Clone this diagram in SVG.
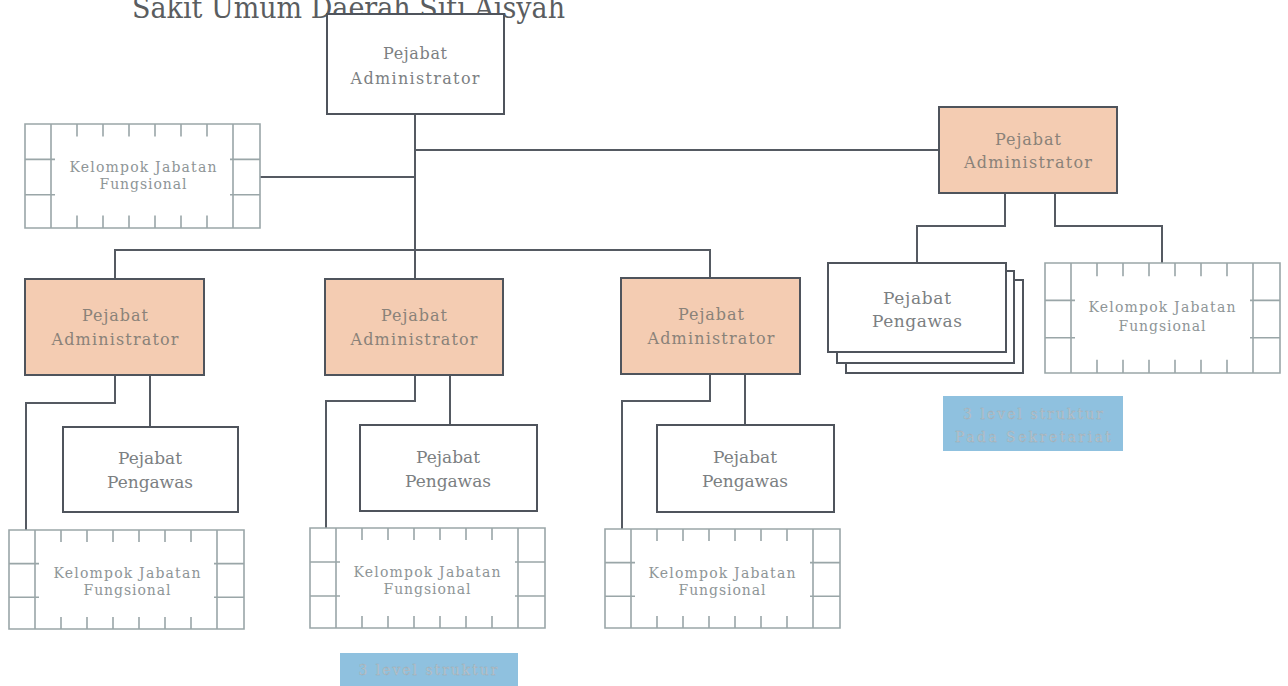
<svg xmlns="http://www.w3.org/2000/svg" width="1288" height="686" viewBox="0 0 1288 686">
  <style>
    .box { fill: #ffffff; stroke: #4f545c; stroke-width: 2; }
    .adm { fill: #f4ccb2; stroke: #4f545c; stroke-width: 2; }
    .kjf-frame { fill: #ffffff; stroke: #9aa6a8; stroke-width: 1.6; vector-effect: non-scaling-stroke; }
    .kjf-line { fill: none; stroke: #9aa6a8; stroke-width: 1.6; vector-effect: non-scaling-stroke; }
    .wire { fill: none; stroke: #555a62; stroke-width: 2; }
    .lbl { font-family: "DejaVu Serif", "Liberation Serif", serif; fill: #7c8082; text-anchor: middle; font-size: 17px; }
    .lbl-adm { font-family: "DejaVu Serif", "Liberation Serif", serif; fill: #8a8279; text-anchor: middle; font-size: 16px; }
    .lbl-kjf { font-family: "DejaVu Serif", "Liberation Serif", serif; fill: #8e9597; text-anchor: middle; font-size: 14px; }
    .tag { fill: #8fc1df; }
    .lbl-tag { font-family: "DejaVu Serif", "Liberation Serif", serif; fill: #bcc7ce; stroke: #9aa9b2; stroke-width: 0.3; text-anchor: middle; font-size: 14px; }
  </style>
  <defs>
    <!-- functional group frame, 235 x 100 -->
    <g id="kjf">
      <rect class="kjf-frame" x="0" y="0" width="235" height="100"/>
      <path class="kjf-line" d="M26 0V100 M208 0V100 M0 34H30 M0 68H30 M205 34H235 M205 68H235 M52 0V12 M78 0V12 M104 0V12 M130 0V12 M156 0V12 M182 0V12 M52 88V100 M78 88V100 M104 88V100 M130 88V100 M156 88V100 M182 88V100"/>
    </g>
  </defs>

  <rect width="1288" height="686" fill="#ffffff"/>

  <!-- heading, running off the top edge -->
  <text x="132" y="18" font-family="DejaVu Serif, Liberation Serif, serif" font-size="30" font-weight="300" fill="#5a5d60" textLength="433" lengthAdjust="spacingAndGlyphs">Sakit Umum Daerah Siti Aisyah</text>

  <g id="connectors">
    <path class="wire" d="M415 114V279"/>
    <path class="wire" d="M415 150H939"/>
    <path class="wire" d="M260 177H415"/>
    <path class="wire" d="M115 279V250H710V278"/>
    <path class="wire" d="M115 375V403H26V530"/>
    <path class="wire" d="M150 375V427"/>
    <path class="wire" d="M415 375V401H326V528"/>
    <path class="wire" d="M450 375V425"/>
    <path class="wire" d="M710 374V401H622V529"/>
    <path class="wire" d="M745 374V425"/>
    <path class="wire" d="M1005 193V226H917V263"/>
    <path class="wire" d="M1055 193V226H1162V263"/>
  </g>

  <g id="top-admin">
    <rect class="box" x="327" y="14" width="177" height="100"/>
    <text class="lbl-adm" style="fill:#7c8082" x="415" y="59" textLength="64">Pejabat</text>
    <text class="lbl-adm" style="fill:#7c8082" x="415" y="84" textLength="129">Administrator</text>
  </g>

  <g id="kjf-top">
    <use href="#kjf" transform="translate(25,124) scale(1,1.04)"/>
    <text class="lbl-kjf" x="143" y="172" textLength="147">Kelompok Jabatan</text>
    <text class="lbl-kjf" x="143" y="189" textLength="87">Fungsional</text>
  </g>

  <g id="secretariat-admin">
    <rect class="adm" x="939" y="107" width="178" height="86"/>
    <text class="lbl-adm" x="1028" y="145" textLength="66">Pejabat</text>
    <text class="lbl-adm" x="1028" y="168" textLength="128">Administrator</text>
  </g>

  <g id="secretariat-pengawas">
    <rect class="box" x="846" y="280" width="177" height="93"/>
    <rect class="box" x="837" y="271" width="177" height="92"/>
    <rect class="box" x="828" y="263" width="178" height="89"/>
    <text class="lbl" x="917" y="304" textLength="68">Pejabat</text>
    <text class="lbl" x="917" y="327" textLength="90">Pengawas</text>
  </g>

  <g id="kjf-secretariat">
    <use href="#kjf" transform="translate(1045,263) scale(1,1.1)"/>
    <text class="lbl-kjf" x="1162" y="312" textLength="147">Kelompok Jabatan</text>
    <text class="lbl-kjf" x="1162" y="331" textLength="87">Fungsional</text>
  </g>

  <g id="tag-secretariat">
    <rect class="tag" x="943" y="396" width="180" height="55"/>
    <text class="lbl-tag" x="1033" y="419" textLength="140">3 level struktur</text>
    <text class="lbl-tag" x="1033" y="442" textLength="156">Pada Sekretariat</text>
  </g>

  <g id="admin-1">
    <rect class="adm" x="25" y="279" width="179" height="96"/>
    <text class="lbl-adm" x="115" y="321" textLength="66">Pejabat</text>
    <text class="lbl-adm" x="115" y="345" textLength="127">Administrator</text>
  </g>
  <g id="admin-2">
    <rect class="adm" x="325" y="279" width="178" height="96"/>
    <text class="lbl-adm" x="414" y="321" textLength="66">Pejabat</text>
    <text class="lbl-adm" x="414" y="345" textLength="127">Administrator</text>
  </g>
  <g id="admin-3">
    <rect class="adm" x="621" y="278" width="179" height="96"/>
    <text class="lbl-adm" x="711" y="320" textLength="66">Pejabat</text>
    <text class="lbl-adm" x="711" y="344" textLength="127">Administrator</text>
  </g>

  <g id="pengawas-1">
    <rect class="box" x="63" y="427" width="175" height="85"/>
    <text class="lbl" x="150" y="464" textLength="64">Pejabat</text>
    <text class="lbl" x="150" y="488" textLength="86">Pengawas</text>
  </g>
  <g id="pengawas-2">
    <rect class="box" x="360" y="425" width="177" height="86"/>
    <text class="lbl" x="448" y="463" textLength="64">Pejabat</text>
    <text class="lbl" x="448" y="487" textLength="86">Pengawas</text>
  </g>
  <g id="pengawas-3">
    <rect class="box" x="657" y="425" width="177" height="87"/>
    <text class="lbl" x="745" y="463" textLength="64">Pejabat</text>
    <text class="lbl" x="745" y="487" textLength="86">Pengawas</text>
  </g>

  <g id="kjf-1">
    <use href="#kjf" transform="translate(9,530) scale(1,0.99)"/>
    <text class="lbl-kjf" x="127" y="578" textLength="147">Kelompok Jabatan</text>
    <text class="lbl-kjf" x="127" y="595" textLength="87">Fungsional</text>
  </g>
  <g id="kjf-2">
    <use href="#kjf" transform="translate(310,528)"/>
    <text class="lbl-kjf" x="427" y="577" textLength="147">Kelompok Jabatan</text>
    <text class="lbl-kjf" x="427" y="594" textLength="87">Fungsional</text>
  </g>
  <g id="kjf-3">
    <use href="#kjf" transform="translate(605,529) scale(1,0.99)"/>
    <text class="lbl-kjf" x="722" y="578" textLength="147">Kelompok Jabatan</text>
    <text class="lbl-kjf" x="722" y="595" textLength="87">Fungsional</text>
  </g>

  <g id="tag-bottom">
    <rect class="tag" x="340" y="653" width="178" height="40"/>
    <text class="lbl-tag" x="428" y="675" textLength="139">3 level struktur</text>
  </g>
</svg>
